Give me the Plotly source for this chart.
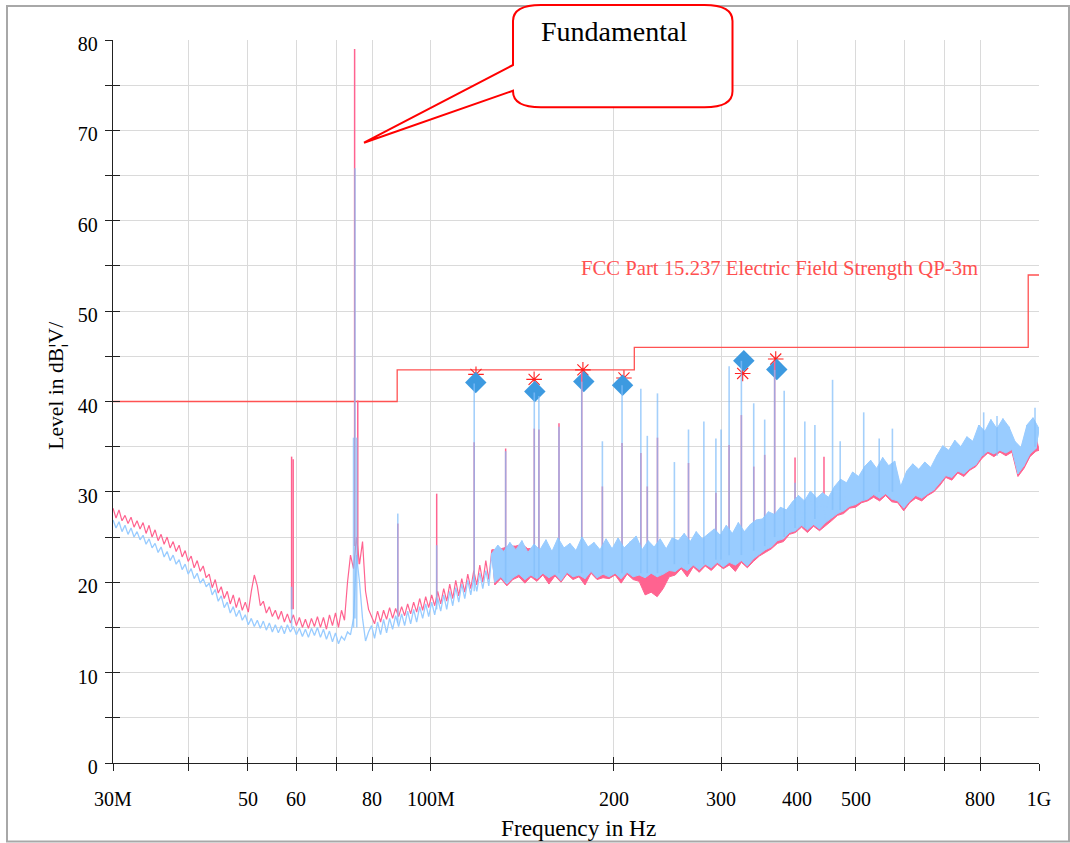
import numpy as np
import plotly.graph_objects as go

# ---------------- data ----------------
# Swept noise floor, peak trace (pink) and second trace (blue), dBuV/m.
# Values alternate local maxima / minima of the displayed trace.
pink_level = [
    28.2, 27.1, 28.0, 26.8, 27.4, 26.5, 27.2, 26.1, 26.8, 25.9,
    26.6, 25.4, 26.3, 25.0, 25.8, 24.6, 25.3, 24.2, 25.0, 23.8,
    24.5, 23.4, 24.1, 22.8, 23.5, 22.3, 22.9, 21.6, 22.4, 21.2,
    21.8, 20.5, 20.9, 19.4, 20.3, 18.8, 19.5, 18.2, 19.0, 17.6,
    18.6, 17.2, 18.3, 16.9, 17.8, 16.7, 19.0, 20.8, 19.6, 17.4,
    17.9, 16.6, 17.3, 16.2, 16.9, 15.9, 16.8, 15.6, 16.5, 15.5,
    16.4, 15.2, 16.1, 15.0, 15.9, 14.9, 16.0, 15.1, 16.2, 15.0,
    16.1, 14.8, 16.4, 15.2, 16.6, 15.0, 16.9, 15.8,
    20.0, 23.0, 21.5, 25.0, 22.0, 24.5, 19.0, 17.0,
    16.2, 15.4, 16.8, 15.6, 16.9, 15.9, 17.2, 16.0, 17.1, 16.2,
    17.3, 16.3, 17.6, 16.5, 17.8, 16.7, 18.2, 16.9, 18.4, 17.2,
    18.6, 17.4, 19.0, 17.6, 19.3, 17.9, 19.8, 18.2, 20.2, 18.5,
    20.4, 18.9, 20.9, 19.3, 21.3, 19.7, 21.9, 20.0, 22.4, 20.3,
    23.6, 19.7, 23.6, 20.4, 23.8, 19.6, 24.0, 20.3, 24.0, 20.6, 24.2, 19.9, 23.7, 20.6, 23.8,
    20.1, 23.2, 20.8, 24.2, 19.8, 23.1, 20.7, 24.4, 20.0, 23.4, 20.9, 23.9, 20.3, 23.2, 20.6,
    24.5, 19.7, 23.5, 21.0, 24.0, 20.3, 23.2, 20.5, 24.3, 20.4,
    23.3, 20.8, 24.4, 19.9, 23.4, 20.9, 24.0, 20.3, 24.6, 20.1,
    23.1, 18.6, 24.0, 18.9, 23.2, 18.4, 24.2, 19.3, 23.2, 20.6, 24.4,
    20.8, 24.2, 21.5, 24.9, 20.6, 24.1, 21.7, 25.1, 21.1, 24.4, 21.8, 24.9, 21.3, 25.5, 22.0,
    24.8, 21.5, 25.8, 21.9, 25.0, 21.2, 26.1, 22.2, 25.2, 21.6, 25.9, 22.3, 26.4,
    22.9, 26.6, 23.3, 27.3, 23.7, 27.1, 24.3, 27.9, 24.5, 27.6, 25.3, 28.4,
    25.5, 29.1, 26.1, 28.6, 25.5, 29.6, 26.2, 28.9, 25.7, 29.5, 26.3, 29.0,
    26.8, 30.2, 27.4, 30.9, 27.6, 30.6, 28.2, 31.7, 28.3, 31.3, 28.8,
    32.4, 29.0, 33.0, 29.4, 32.3, 29.0, 33.3, 29.6, 32.5, 28.9, 33.0, 28.8,
    30.2, 27.9,
    31.9, 28.8, 32.7, 29.3, 32.1, 29.0, 32.9, 29.6, 32.3, 30.0,
    33.6, 30.7, 34.7, 31.6, 34.2, 31.3, 35.3, 32.1, 34.6, 31.7, 35.7, 32.4, 35.2, 32.8,
    37.0, 33.7, 36.3, 34.3, 37.6, 33.9, 36.6, 34.4, 37.7, 34.0, 36.8, 34.4,
    35.2, 31.7, 34.5, 32.6,
    37.0, 33.9, 37.8, 34.5, 34.6,
]

blue_level = [
    26.9, 26.0, 26.7, 25.6, 26.3, 25.3, 26.0, 25.0, 25.6, 24.7,
    25.2, 24.2, 24.8, 23.8, 24.3, 23.3, 23.9, 22.8, 23.4, 22.4,
    23.0, 22.0, 22.5, 21.4, 22.0, 20.9, 21.5, 20.4, 21.0, 19.9,
    20.4, 19.5, 19.9, 18.6, 19.2, 17.9, 18.5, 17.2, 17.8, 16.6,
    17.3, 16.2, 16.9, 15.8, 16.4, 15.3, 16.0, 15.1, 15.8, 14.9,
    15.7, 14.7, 15.5, 14.5, 15.3, 14.4, 15.2, 14.3, 15.3, 14.5,
    15.1, 14.2, 14.9, 14.0, 14.8, 13.9, 14.9, 14.1, 15.0, 13.9,
    14.8, 13.7, 14.6, 13.4, 14.4, 13.2, 14.0, 13.6,
    14.5, 14.2, 16.0, 23.0, 20.0, 16.0, 13.5, 14.5,
    15.2, 13.8, 15.6, 14.2, 15.9, 14.4, 16.0, 14.8, 16.3, 15.1,
    16.5, 15.2, 16.8, 15.4, 17.0, 15.6, 17.3, 16.0, 17.6, 16.2,
    17.8, 16.4, 18.2, 16.8, 18.6, 17.0, 19.0, 17.4, 19.4, 17.8,
    19.8, 18.2, 20.2, 18.6, 20.6, 19.0, 21.0, 19.3, 21.3, 19.6,
    23.2, 20.0, 24.1, 20.6, 23.4, 19.8, 24.4, 20.5, 23.6, 20.9, 24.6, 20.3, 23.3, 20.8, 24.2,
    20.4, 23.6, 21.0, 24.7, 20.5, 23.4, 20.9, 24.9, 20.2, 23.8, 21.1, 24.3, 20.6, 23.5, 20.8,
    25.0, 20.4, 23.9, 21.2, 24.4, 20.5, 23.6, 20.9, 24.8, 20.6,
    23.7, 21.0, 24.9, 20.4, 23.8, 21.1, 24.5, 20.6, 25.1, 20.8,
    23.6, 20.5, 24.6, 21.0, 23.9, 20.6, 24.8, 20.9, 23.7, 21.3, 24.9,
    21.2, 24.6, 21.7, 25.4, 21.3, 24.5, 21.9, 25.6, 21.4, 24.8, 22.0, 25.3, 21.6, 25.9, 22.2,
    25.2, 21.7, 26.3, 22.2, 25.4, 21.9, 26.6, 22.4, 25.6, 21.8, 26.4, 22.6, 26.9,
    23.1, 27.0, 23.6, 27.8, 23.9, 27.5, 24.6, 28.3, 24.8, 28.0, 25.5, 28.9,
    25.7, 29.6, 26.3, 29.0, 25.8, 30.1, 26.4, 29.3, 25.9, 29.9, 26.6, 29.4,
    27.1, 30.6, 27.6, 31.4, 27.9, 31.0, 28.4, 32.2, 28.6, 31.7, 29.0,
    32.8, 29.2, 33.5, 29.7, 32.6, 29.3, 33.8, 29.8, 32.9, 29.2, 33.4, 29.0,
    30.6, 28.2,
    32.3, 29.0, 33.1, 29.6, 32.5, 29.3, 33.3, 29.8, 32.7, 30.2,
    34.0, 31.0, 35.1, 31.8, 34.6, 31.6, 35.7, 32.3, 35.0, 32.0, 36.1, 32.6, 35.6, 33.0,
    37.4, 34.0, 36.7, 34.5, 38.0, 34.2, 37.0, 34.6, 38.1, 34.3, 37.2, 34.7,
    35.6, 32.0, 34.9, 32.9,
    37.4, 34.2, 38.2, 34.8, 37.0,
]

# Narrow-band emissions (MHz, peak dB, floor dB)
pink_spike_mhz = [59.0, 59.35, 74.9, 75.8, 88.2, 102.2, 117.8, 132.7, 147.9, 150.5,
                  162.4, 177.0, 191.4, 206.2, 221.4, 226.9, 235.8, 265.2, 294.2, 309.3,
                  324.0, 339.5, 353.9, 367.5, 397.0, 443.0]
pink_spike_peak = [33.9, 33.6, 79.0, 40.1, 26.5, 29.8, 35.5, 34.8, 37.0, 36.9,
                   37.6, 43.3, 30.6, 35.4, 34.3, 30.6, 36.0, 33.2, 29.9, 35.2,
                   38.5, 32.8, 34.1, 44.5, 33.8, 33.9]
pink_spike_floor = [17, 17, 24, 22, 16.5, 18, 20, 21, 21, 21,
                    21, 21, 21, 21, 20, 20, 20, 22, 22, 23,
                    23, 23, 24, 25, 26, 27]

blue_spike_mhz = [59.0, 74.6, 75.0, 75.5, 88.2, 102.2, 117.8, 132.7, 147.9, 150.5,
                  162.4, 177.0, 191.4, 206.2, 221.4, 226.9, 235.8, 251.4, 265.2, 281.1,
                  294.2, 300.0, 309.3, 324.0, 339.5, 353.9, 367.5, 381.0, 397.0, 412.0,
                  428.0, 457.6, 471.0, 514.9, 546.0, 574.0, 811.0, 853.0, 985.0]
blue_spike_peak = [19.5, 36.0, 65.8, 36.0, 27.6, 24.1, 42.0, 34.5, 41.0, 40.6,
                   37.2, 42.2, 35.6, 41.8, 41.4, 36.2, 40.9, 33.3, 36.9, 37.8,
                   35.9, 36.9, 43.9, 44.5, 39.8, 38.0, 43.5, 41.2, 31.0, 37.8,
                   37.4, 42.4, 35.6, 38.8, 35.9, 37.0, 38.8, 38.4, 39.3]
blue_spike_floor = [15, 15, 16, 15, 15.5, 17, 19, 20, 20.5, 20.5,
                    21, 21, 21, 21, 21, 21, 21, 22, 22, 22,
                    22.5, 22.5, 23, 23, 23.5, 24, 25, 25, 26, 26,
                    27, 28, 28, 29, 30, 30, 34, 34, 35]

# Final measurement markers
diamond_mhz = [118.5, 148.2, 178.4, 206.6, 327.0, 370.5]
diamond_level = [42.1, 41.1, 42.2, 41.8, 44.5, 43.55]
star_mhz = [118.6, 147.8, 177.8, 207.7, 325.6, 369.0]
star_level = [43.0, 42.45, 43.5, 42.6, 43.1, 44.7]

# Limit line FCC Part 15.237 QP-3m
limit_mhz = [30, 88, 216, 960, 1000]
limit_level = [40, 43.5, 46, 54, 54]

# Axis ticks
x_tick_mhz = [30, 40, 50, 60, 70, 80, 100, 200, 300, 400, 500, 600, 700, 800, 1000]
x_tick_text = ["30M", "", "50", "60", "", "80", "100M", "200", "300", "400", "500", "", "", "800", "1G"]
y_tick_vals = list(range(0, 81, 5))
y_tick_text = [str(v) if v % 10 == 0 else "" for v in y_tick_vals]

# ---------------- figure ----------------
W, H = 1070, 843
ML, MR, MT, MB = 113, 31, 40, 80
PW, PH = W - ML - MR, H - MT - MB
SERIF = "Liberation Serif"
BAND_START = 126   # from here on the dense sweep is shown as a max/min band


def px(x):
    return (x - ML) / PW


def py(y):
    return (H - MB - y) / PH


sweep_hz = np.geomspace(30e6, 1e9, len(pink_level))


def spike_xy(mhz, peak, floor):
    xs, ys = [], []
    for f, p, b in zip(mhz, peak, floor):
        xs += [f * 1e6, f * 1e6, None]
        ys += [b, p, None]
    return xs, ys


def band_xy(level):
    k = BAND_START
    ux, uy = list(sweep_hz[k::2]), level[k::2]
    lx, ly = list(sweep_hz[k + 1::2]), level[k + 1::2]
    return ux + lx[::-1], uy + ly[::-1]


PINK = "#ff6390"
BLUE = "#99ccff"

fig = go.Figure()
fig.add_trace(go.Scatter(x=[f * 1e6 for f in limit_mhz], y=limit_level, mode="lines",
                         line=dict(color="#ff5252", width=1.3, shape="hv"), hoverinfo="skip"))
fig.add_trace(go.Scatter(x=[f * 1e6 for f in star_mhz], y=star_level, mode="markers",
                         marker=dict(symbol="asterisk-open", size=13, color="#ff2020",
                                     line=dict(color="#ff2020", width=1.1))))
fig.add_trace(go.Scatter(x=[f * 1e6 for f in diamond_mhz], y=diamond_level, mode="markers",
                         marker=dict(symbol="diamond", size=16.5, color="#3d9ae0",
                                     line=dict(width=0))))
# pink trace
fig.add_trace(go.Scatter(x=sweep_hz[:BAND_START + 2], y=pink_level[:BAND_START + 2], mode="lines",
                         line=dict(color=PINK, width=1.2)))
bx, by = band_xy(pink_level)
fig.add_trace(go.Scatter(x=bx, y=by, mode="lines", fill="toself", fillcolor=PINK,
                         line=dict(color=PINK, width=1)))
sx, sy = spike_xy(pink_spike_mhz, pink_spike_peak, pink_spike_floor)
fig.add_trace(go.Scatter(x=sx, y=sy, mode="lines", line=dict(color=PINK, width=1.5)))
# blue trace
fig.add_trace(go.Scatter(x=sweep_hz[:BAND_START + 2], y=blue_level[:BAND_START + 2], mode="lines",
                         line=dict(color=BLUE, width=1.3)))
bx, by = band_xy(blue_level)
fig.add_trace(go.Scatter(x=bx, y=by, mode="lines", fill="toself", fillcolor=BLUE,
                         line=dict(color=BLUE, width=1)))
fig.add_trace(go.Scatter(x=sweep_hz[BAND_START:], y=blue_level[BAND_START:], mode="lines",
                         line=dict(color=BLUE, width=1)))
sx, sy = spike_xy(blue_spike_mhz, blue_spike_peak, blue_spike_floor)
fig.add_trace(go.Scatter(x=sx, y=sy, mode="lines",
                         line=dict(color="rgba(130,190,250,0.72)", width=1.6)))
# carrier for the inside half of the crossing tick marks
fig.add_trace(go.Scatter(x=[None], y=[None], xaxis="x2", yaxis="y2", hoverinfo="skip"))

xrange = [np.log10(30e6) - 1e-6, 9 + 1e-6]
xticks = [f * 1e6 for f in x_tick_mhz]

fig.update_layout(
    width=W, height=H,
    margin=dict(l=ML, r=MR, t=MT, b=MB, autoexpand=False),
    paper_bgcolor="white", plot_bgcolor="white",
    showlegend=False,
    font=dict(family=SERIF, size=20, color="black"),
    xaxis=dict(type="log", range=xrange, autorange=False,
               tickvals=xticks, ticktext=x_tick_text,
               ticks="outside", ticklen=7, tickwidth=1.2, tickcolor="#222",
               showline=True, linecolor="#222", linewidth=1.3,
               showgrid=True, gridcolor="#dadada", gridwidth=1, zeroline=False,
               tickfont=dict(family=SERIF, size=20, color="black"),
               ticklabelstandoff=11),
    yaxis=dict(range=[0, 80], autorange=False,
               tickvals=y_tick_vals, ticktext=y_tick_text,
               ticks="outside", ticklen=7, tickwidth=1.2, tickcolor="#222",
               showline=True, linecolor="#222", linewidth=1.3,
               showgrid=True, gridcolor="#dadada", gridwidth=1, zeroline=False,
               tickfont=dict(family=SERIF, size=20, color="black"),
               ticklabelstandoff=3, ticklabelshift=4),
    xaxis2=dict(type="log", range=xrange, autorange=False, overlaying="x", anchor="y",
                side="bottom", tickvals=xticks, showticklabels=False,
                ticks="inside", ticklen=6, tickwidth=1.2, tickcolor="#222",
                showgrid=False, showline=False, zeroline=False),
    yaxis2=dict(range=[0, 80], autorange=False, overlaying="y", anchor="x",
                side="left", tickvals=y_tick_vals, showticklabels=False,
                ticks="inside", ticklen=7, tickwidth=1.2, tickcolor="#222",
                showgrid=False, showline=False, zeroline=False),
)


def P(x, y):
    return f"{px(x):.5f},{py(y):.5f}"


L, R, T, B = 513, 732.5, 5, 107.3
rx, ry = 28, 16
callout = ("M" + P(L, 65) + " L" + P(364, 142.7) + " L" + P(L, 90.7) +
           " L" + P(L, B - ry) + " Q" + P(L, B) + " " + P(L + rx, B) +
           " L" + P(R - rx, B) + " Q" + P(R, B) + " " + P(R, B - ry) +
           " L" + P(R, T + ry) + " Q" + P(R, T) + " " + P(R - rx, T) +
           " L" + P(L + rx, T) + " Q" + P(L, T) + " " + P(L, T + ry) + " Z")

fig.update_layout(shapes=[
    dict(type="rect", xref="paper", yref="paper", x0=px(7), x1=px(1069), y0=py(841.5), y1=py(6),
         line=dict(color="#a8a8a8", width=2), fillcolor="rgba(0,0,0,0)"),
    dict(type="path", xref="paper", yref="paper", path=callout,
         line=dict(color="#ff0000", width=2), fillcolor="white"),
])

fig.update_layout(annotations=[
    dict(text="Fundamental", xref="paper", yref="paper", x=px(539.3), y=py(31.2),
         xanchor="left", yanchor="middle", showarrow=False,
         font=dict(family=SERIF, size=28, color="black")),
    dict(text="FCC Part 15.237 Electric Field Strength QP-3m", xref="paper", yref="paper",
         x=px(578.5), y=py(268), xanchor="left", yanchor="middle", showarrow=False,
         font=dict(family=SERIF, size=20.7, color="#ff5050")),
    dict(text="Frequency in Hz", xref="paper", yref="paper", x=px(578.4), y=py(828.3),
         xanchor="center", yanchor="middle", showarrow=False,
         font=dict(family=SERIF, size=23.3, color="black")),
    dict(text="Level in dB\u00a6V/", xref="paper", yref="paper", x=px(55.7), y=py(386),
         xanchor="center", yanchor="middle", showarrow=False, textangle=-90,
         font=dict(family=SERIF, size=21.6, color="black")),
])

fig.write_html("out.html")
